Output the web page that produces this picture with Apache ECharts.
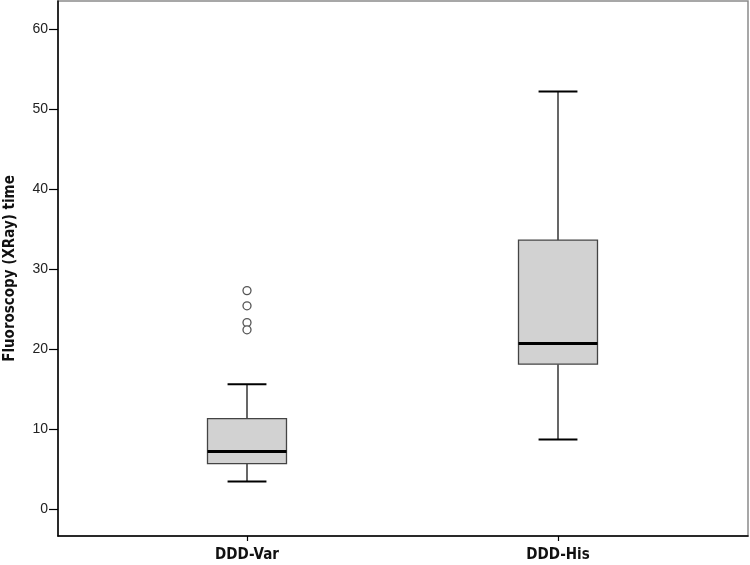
<!DOCTYPE html>
<html>
<head>
<meta charset="utf-8">
<script src="https://cdn.jsdelivr.net/npm/echarts@6/dist/echarts.min.js"></script>
<style>html,body{margin:0;padding:0;background:#fff}#c{width:750px;height:565px}</style>
</head>
<body>
<div id="c"></div>
<script>
const categories = ['DDD-Var', 'DDD-His'];
// [min whisker, Q1, median, Q3, max whisker]
const boxStats = [
  [3.45, 5.66, 7.2, 11.3, 15.6],
  [8.7, 18.1, 20.7, 33.6, 52.2]
];
const outliers = [
  [0, 27.3], [0, 25.4], [0, 23.3], [0, 22.4]
];
const yTicks = [0, 10, 20, 30, 40, 50, 60];
const yTitle = 'Fluoroscopy (XRay) time';

const Y_MIN = -3.375, Y_MAX = 63.5;
const narrow = '"Liberation Sans Narrow", "DejaVu Sans Condensed", "Liberation Sans", sans-serif';

const chart = echarts.init(document.getElementById('c'), null, {renderer: 'canvas'});
chart.setOption({
  animation: false,
  backgroundColor: '#fff',
  grid: [
    {left: 58, right: 2, top: 1, bottom: 29, containLabel: false, outerBoundsMode: 'none',
     show: true, borderColor: '#8a8a8a', borderWidth: 1.5, backgroundColor: 'transparent'},
    {left: 91.5, right: 36.5, top: 1, bottom: 29, containLabel: false, outerBoundsMode: 'none'}
  ],
  xAxis: [
    {gridIndex: 0, type: 'value', min: 0, max: 1,
     axisLine: {show: true, onZero: false, lineStyle: {color: '#000', width: 1.5}},
     axisTick: {show: false}, axisLabel: {show: false}, splitLine: {show: false}},
    {gridIndex: 1, type: 'category', data: categories, boundaryGap: true,
     axisLine: {show: false, onZero: false},
     axisTick: {show: true, alignWithLabel: true, length: 5, lineStyle: {color: '#000', width: 1.2}},
     axisLabel: {margin: 12, fontFamily: narrow, fontWeight: 'bold', fontSize: 15, color: '#111'},
     splitLine: {show: false}}
  ],
  yAxis: [
    {gridIndex: 0, type: 'value', min: Y_MIN, max: Y_MAX,
     name: yTitle, nameLocation: 'middle', nameGap: 40,
     nameTextStyle: {fontFamily: narrow, fontWeight: 'bold', fontSize: 15, color: '#111'},
     axisLine: {show: true, onZero: false, lineStyle: {color: '#000', width: 1.5}},
     axisTick: {show: true, length: 9, customValues: yTicks, lineStyle: {color: '#000', width: 1.2}},
     axisLabel: {customValues: yTicks, margin: 10, fontFamily: '"Liberation Sans", Arial, sans-serif', fontSize: 14, color: '#222'},
     splitLine: {show: false}},
    {gridIndex: 1, type: 'value', min: Y_MIN, max: Y_MAX, show: false, splitLine: {show: false}}
  ],
  series: [
    {
      type: 'custom', xAxisIndex: 1, yAxisIndex: 1,
      data: boxStats.map((s, i) => [i].concat(s)),
      renderItem: function (params, api) {
        const idx = api.value(0);
        const lo = api.coord([idx, api.value(1)]);
        const q1 = api.coord([idx, api.value(2)]);
        const md = api.coord([idx, api.value(3)]);
        const q3 = api.coord([idx, api.value(4)]);
        const hi = api.coord([idx, api.value(5)]);
        const band = api.size([1, 0])[0];
        const bw = band * 0.254, cw = band * 0.125;
        const x = md[0];
        const line = (x1, y1, x2, y2, w) => ({type: 'line', shape: {x1, y1, x2, y2}, style: {stroke: '#000', lineWidth: w}});
        return {type: 'group', children: [
          line(x, hi[1], x, q3[1], 1.2),
          line(x, lo[1], x, q1[1], 1.2),
          line(x - cw / 2, hi[1], x + cw / 2, hi[1], 2),
          line(x - cw / 2, lo[1], x + cw / 2, lo[1], 2),
          {type: 'rect', shape: {x: x - bw / 2, y: q3[1], width: bw, height: q1[1] - q3[1]},
           style: {fill: '#d2d2d2', stroke: '#444', lineWidth: 1.3}},
          line(x - bw / 2, md[1], x + bw / 2, md[1], 3)
        ]};
      }
    },
    {
      type: 'scatter', xAxisIndex: 1, yAxisIndex: 1,
      data: outliers, symbol: 'circle', symbolSize: 8,
      itemStyle: {color: '#fff', borderColor: '#555', borderWidth: 1.3, opacity: 1}
    }
  ]
});
</script>
</body>
</html>
